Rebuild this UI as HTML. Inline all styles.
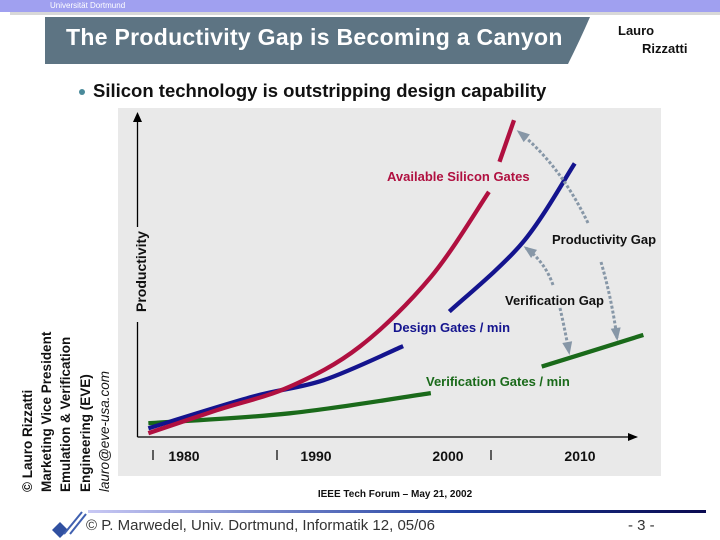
<!DOCTYPE html>
<html><head><meta charset="utf-8"><style>
body{margin:0;width:720px;height:540px;overflow:hidden;background:#fff;font-family:"Liberation Sans","DejaVu Sans",sans-serif;position:relative}
.abs{position:absolute}
.rot{position:absolute;transform-origin:0 0;transform:rotate(-90deg);white-space:nowrap;font-size:13.5px;font-weight:bold;color:#111}
</style></head><body>
<div class="abs" style="left:0;top:0;width:720px;height:12px;background:#a0a0f0"></div>
<div class="abs" style="left:10px;top:12px;width:710px;height:3px;background:#d8d8d8"></div>
<div class="abs" style="left:50px;top:0;font-size:8px;color:#fff;line-height:11px">Universität Dortmund</div>
<svg class="abs" style="left:0;top:0" width="720" height="70"><path d="M45 17 H590 Q580 40 568 64 H45 Z" fill="#5d7483"/></svg>
<div class="abs" style="left:66px;top:24px;font-size:23px;font-weight:bold;color:#fff;letter-spacing:0.3px">The Productivity Gap is Becoming a Canyon</div>
<div class="abs" style="left:618px;top:22px;font-size:13px;font-weight:bold;line-height:18px;color:#111">Lauro<br><span style="margin-left:24px">Rizzatti</span></div>
<div class="abs" style="left:79px;top:89px;width:6px;height:6px;border-radius:3px;background:#4a8a9a"></div>
<div class="abs" style="left:93px;top:80px;font-size:18.5px;font-weight:bold;color:#111">Silicon technology is outstripping design capability</div>

<div class="rot" style="left:20px;top:492px">© Lauro Rizzatti</div>
<div class="rot" style="left:39px;top:492px">Marketing Vice President</div>
<div class="rot" style="left:58px;top:492px">Emulation &amp; Verification</div>
<div class="rot" style="left:78px;top:492px">Engineering (EVE)</div>
<div class="rot" style="left:97px;top:492px;font-weight:normal;font-style:italic">lauro@eve-usa.com</div>

<svg class="abs" id="chart" style="left:0;top:0" width="720" height="540"></svg>

<svg class="abs" style="left:0;top:0" width="720" height="540">
<defs><linearGradient id="fg" x1="0" x2="1"><stop offset="0" stop-color="#c8c8f4"/><stop offset="0.6" stop-color="#2040a0"/><stop offset="1" stop-color="#0a0a50"/></linearGradient></defs>
<rect x="88" y="510" width="618" height="3" fill="url(#fg)"/>
<g fill="#3050a0"><polygon points="52,530 60,522 68,530 60,538"/><line x1="64" y1="534" x2="82" y2="512" stroke="#4060b0" stroke-width="2"/><line x1="70" y1="534" x2="86" y2="514" stroke="#4060b0" stroke-width="2"/></g>
</svg>
<div class="abs" style="left:86px;top:517px;font-size:15px;color:#333">© P. Marwedel, Univ. Dortmund, Informatik 12, 05/06</div>
<div class="abs" style="left:628px;top:517px;font-size:15px;color:#333">- 3 -</div>

<script>
const yearTicks=[1980,1990,2000,2010];
const siliconYears=[1977.3,1982.5,1988,1993.3,1998.7,2003.1];
const siliconValues=[1.2,8.4,15.7,28.2,50,76.6];
const siliconTopYears=[2003.9,2005];
const siliconTopValues=[86,99];
const designYears=[1977.3,1985.2,1990.6,1996.6];
const designValues=[2.7,12.6,17.8,28.4];
const designTopYears=[2000.1,2005.6,2009.6];
const designTopValues=[39.2,60.5,85.5];
const verifYears=[1977.3,1988,1998.7];
const verifValues=[4.3,7.4,13.7];
const verifTopYears=[2007.1,2014.8];
const verifTopValues=[22,31.9];

const svg=document.getElementById('chart');
const NS='http://www.w3.org/2000/svg';
function X(yr){return 184+(yr-1980)*13.2;}
function Y(v){return 437-v*3.2;}
function mk(tag,attrs){const e=document.createElementNS(NS,tag);for(const k in attrs)e.setAttribute(k,attrs[k]);svg.appendChild(e);return e;}
function smooth(xs,vs){const p=xs.map((x,i)=>[X(x),Y(vs[i])]);let d='M'+p[0][0]+' '+p[0][1];
for(let i=0;i<p.length-1;i++){const p0=p[i-1]||p[i],p1=p[i],p2=p[i+1],p3=p[i+2]||p2;
d+=' C'+(p1[0]+(p2[0]-p0[0])/6)+' '+(p1[1]+(p2[1]-p0[1])/6)+' '+(p2[0]-(p3[0]-p1[0])/6)+' '+(p2[1]-(p3[1]-p1[1])/6)+' '+p2[0]+' '+p2[1];}return d;}

let e=mk('rect',{x:118,y:108,width:543,height:368,fill:'#e9e9e9'});


e=mk('line',{x1:137.5,y1:437,x2:137.5,y2:322,stroke:'#000','stroke-width':1.3});


e=mk('line',{x1:137.5,y1:227,x2:137.5,y2:116,stroke:'#000','stroke-width':1.3});


e=mk('polygon',{points:'133,122 137.5,112 142,122',fill:'#000'});


e=mk('line',{x1:137.5,y1:437,x2:633,y2:437,stroke:'#000','stroke-width':1.3});


e=mk('polygon',{points:'628,433 638,437 628,441',fill:'#000'});


e=mk('text',{x:0,y:0,transform:'translate(146,312) rotate(-90)','font-size':'14','font-weight':'bold',fill:'#111','font-family':'Liberation Sans, sans-serif'});
e.textContent='Productivity';


[153,277,491].forEach(tx=>{const t=mk('line',{x1:tx,y1:450,x2:tx,y2:460,stroke:'#000','stroke-width':1.2});

});
yearTicks.forEach(yr=>{const t=mk('text',{x:X(yr),y:461,'text-anchor':'middle','font-size':'14','font-weight':'bold',fill:'#111','font-family':'Liberation Sans, sans-serif'});t.textContent=yr;

});

function series(xs,vs,col,name){const p=mk('path',{d:smooth(xs,vs),fill:'none',stroke:col,'stroke-width':4.3,'stroke-linecap':'butt'});

}
series(verifYears,verifValues,'#1a6a1a','verification-gates-line');
series(verifTopYears,verifTopValues,'#1a6a1a','verification-gates-line-future');
series(designYears,designValues,'#14148e','design-gates-line');
series(designTopYears,designTopValues,'#14148e','design-gates-line-future');
series(siliconYears,siliconValues,'#b01040','silicon-gates-line');
series(siliconTopYears,siliconTopValues,'#b01040','silicon-gates-line-future');

function arrow(x1,y1,cx,cy,x2,y2,name){const p=mk('path',{d:`M${x1} ${y1} Q${cx} ${cy} ${x2} ${y2}`,fill:'none',stroke:'#8797a7','stroke-width':3,'stroke-dasharray':'3 2'});


const a=Math.atan2(y2-cy,x2-cx),L=10,W=5;
const h=mk('polygon',{points:`${x2+Math.cos(a)*3},${y2+Math.sin(a)*3} ${x2-Math.cos(a)*L-Math.sin(a)*W},${y2-Math.sin(a)*L+Math.cos(a)*W} ${x2-Math.cos(a)*L+Math.sin(a)*W},${y2-Math.sin(a)*L-Math.cos(a)*W}`,fill:'#8797a7'});

}
arrow(588,223,560,165,519,132,'productivity-gap-arrow-up');
arrow(553,285,545,262,526,248,'verification-gap-arrow-up');
arrow(560,308,565,330,569,352,'verification-gap-arrow-down');
arrow(601,262,612,300,617,338,'productivity-gap-arrow-down');

function label(x,y,txt,col,name){const t=mk('text',{x:x,y:y,'font-size':'13','font-weight':'bold',fill:col,'font-family':'Liberation Sans, sans-serif'});t.textContent=txt;

}
label(387,181,'Available Silicon Gates','#b01040','silicon-gates-label');
label(552,244,'Productivity Gap','#111','productivity-gap-label');
label(505,305,'Verification Gap','#111','verification-gap-label');
label(393,332,'Design Gates / min','#14148e','design-gates-label');
label(426,386,'Verification Gates / min','#1a6a1a','verification-gates-label');
e=mk('text',{x:395,y:497,'text-anchor':'middle','font-size':'10','font-weight':'bold',fill:'#111','font-family':'Liberation Sans, sans-serif'});
e.textContent='IEEE Tech Forum – May 21, 2002';


</script>
</body></html>
